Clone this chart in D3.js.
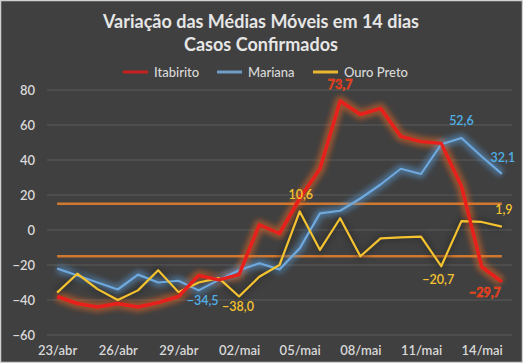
<!DOCTYPE html>
<html><head><meta charset="utf-8">
<script src="https://cdn.jsdelivr.net/npm/d3@7"></script>
<style>
html,body{margin:0;padding:0;background:#404040;}
svg{display:block;font-family:Lato,"Open Sans",sans-serif;}
</style></head>
<body>
<svg id="c" width="523" height="363"></svg>
<script>
const categories = ["23/abr","24/abr","25/abr","26/abr","27/abr","28/abr","29/abr","30/abr",
 "01/mai","02/mai","03/mai","04/mai","05/mai","06/mai","07/mai","08/mai","09/mai","10/mai",
 "11/mai","12/mai","13/mai","14/mai","15/mai"];
const tickLabels = ["23/abr","26/abr","29/abr","02/mai","05/mai","08/mai","11/mai","14/mai"];
const yTicks = [80,60,40,20,0,-20,-40,-60];
const itabirito = [-38,-42,-44,-42,-44,-41.5,-38,-26,-28.5,-25.5,3,-2,18,35,73.7,66,69.5,53.5,50.5,49.5,25,-21,-29.7];
const mariana = [-22,-26,-30,-34,-25.5,-30,-29,-34.5,-28.5,-23,-19,-22.5,-10.5,9.5,11,18,26,35,32,49,52.6,42,32.1];
const ouroPreto = [-35.8,-25,-33.8,-40,-34.5,-23,-35.5,-30,-27.5,-38,-26.7,-20,10.6,-11.4,6.7,-15,-4.8,-4.2,-3.8,-20.7,5.1,4.6,1.9];
const upperLimit = 15;
const lowerLimit = -15;
const seriesNames = ["Itabirito","Mariana","Ouro Preto"];
// labelled points: [series index, category index]
const labelled = [[0,14],[0,22],[1,7],[1,20],[1,22],[2,9],[2,12],[2,19],[2,22]];

const svg = d3.select("#c");
const W=523,H=363;
svg.append("rect").attr("width",W).attr("height",H).attr("fill","#404040");
svg.append("rect").attr("x",0.5).attr("y",0.5).attr("width",W-1).attr("height",H-1)
  .attr("fill","none").attr("stroke","#d0d0d0").attr("stroke-width",1.5);

const defs = svg.append("defs");
function blur(id, sd){ defs.append("filter").attr("id",id).attr("x","-20%").attr("y","-50%").attr("width","140%").attr("height","200%")
  .append("feGaussianBlur").attr("stdDeviation",sd); }
blur("g1",2.5); blur("g2",1.5);

const x = d3.scalePoint().domain(categories).range([47,512]).padding(0.5);
const y = d3.scaleLinear().domain([-60,80]).range([335,90]);

// gridlines
svg.append("g").selectAll("line").data(yTicks).join("line")
  .attr("x1",47).attr("x2",512).attr("y1",d=>y(d)).attr("y2",d=>y(d))
  .attr("stroke","#5a5a5a").attr("stroke-width",1);

// y axis labels
const yAxis = d3.axisLeft(y).tickValues(yTicks).tickSize(0).tickPadding(0).tickFormat(d3.format("d"));
const ya = svg.append("g").attr("transform","translate(35,0)").call(yAxis);
ya.select(".domain").remove();
ya.selectAll("text").attr("fill","#d9d9d9").attr("font-size",13).attr("font-weight",600)
  .attr("font-family","Lato,sans-serif");

// x axis labels
const xAxis = d3.axisBottom(x).tickValues(tickLabels).tickSize(0).tickPadding(0);
const xa = svg.append("g").attr("transform","translate(0,346)").call(xAxis);
xa.select(".domain").remove();
xa.selectAll("text").attr("fill","#d9d9d9").attr("font-size",13).attr("font-weight",600)
  .attr("font-family","Lato,sans-serif");

const line = d3.line().x((d,i)=>x(categories[i])).y(d=>y(d));

// reference lines
function refLine(v, glow){
  const vals = categories.map(()=>v);
  svg.append("path").attr("d",line(vals)).attr("fill","none").attr("stroke",glow)
    .attr("stroke-width",9).attr("opacity",0.35).attr("filter","url(#g1)");
  svg.append("path").attr("d",line(vals)).attr("fill","none").attr("stroke","#d0782f").attr("stroke-width",2.5);
}
refLine(upperLimit,"#c8b030");
refLine(lowerLimit,"#3a6aa8");

const series = [
  {name:seriesNames[0], vals:itabirito, color:"#e8201c", glow:"#ff6a1a", w:3.5, lab:"#d8201c"},
  {name:seriesNames[1], vals:mariana, color:"#6fa8dc", glow:"#5aa0e0", w:2.2, lab:"#4fb0e8"},
  {name:seriesNames[2], vals:ouroPreto, color:"#f5c330", glow:"#222222", w:2.2, lab:"#f5c330"}
];
// glows
series.forEach(s=>{
  svg.append("path").attr("d",line(s.vals)).attr("fill","none").attr("stroke",s.glow)
    .attr("stroke-width",s.w+7).attr("opacity",s.name==="Ouro Preto"?0.3:0.45)
    .attr("stroke-linejoin","round").attr("filter","url(#g1)");
});
[series[1],series[2],series[0]].forEach(s=>{
  svg.append("path").attr("d",line(s.vals)).attr("fill","none").attr("stroke",s.color)
    .attr("stroke-width",s.w).attr("stroke-linejoin","round");
});

// data labels
const fmt = v => d3.format(".1f")(v).replace(".",",");
const offsets = {"0-14":[0,-12],"0-22":[-17,15],"1-7":[4,15],"1-20":[0,-13],"1-22":[1,-12],
  "2-9":[-1,14],"2-12":[1,-12],"2-19":[-3,18],"2-22":[2,-13]};
labelled.forEach(([si,ci])=>{
  const s = series[si]; const v = s.vals[ci];
  const o = offsets[si+"-"+ci];
  const t = svg.append("text").attr("x",x(categories[ci])+o[0]).attr("y",y(v)+o[1])
    .attr("text-anchor","middle").attr("font-size",12.5).attr("font-weight",600)
    .attr("fill",s.lab).text(fmt(v));
  if(si===0) t.attr("font-weight",700).attr("stroke","#ff6a20").attr("stroke-width",0.4);
});

// title
svg.append("text").attr("x",261).attr("y",28).attr("text-anchor","middle").attr("fill","#e6e6e6")
  .attr("font-size",18).attr("font-weight",700).text("Variação das Médias Móveis em 14 dias");
svg.append("text").attr("x",261).attr("y",51).attr("text-anchor","middle").attr("fill","#e6e6e6")
  .attr("font-size",18).attr("font-weight",700).text("Casos Confirmados");

// legend
const legX = [123,217,313];
series.forEach((s,i)=>{
  const g = svg.append("g").attr("transform",`translate(${legX[i]},72)`);
  g.append("line").attr("x1",0).attr("x2",25).attr("stroke",s.name==="Itabirito"?"#c8201c":(s.name==="Mariana"?"#6f9cc8":"#e8b830")).attr("stroke-width",3);
  g.append("text").attr("x",31).attr("y",4.5).attr("fill","#d9d9d9").attr("font-size",13)
    .attr("font-weight",500).text(s.name);
});
</script>
</body></html>
